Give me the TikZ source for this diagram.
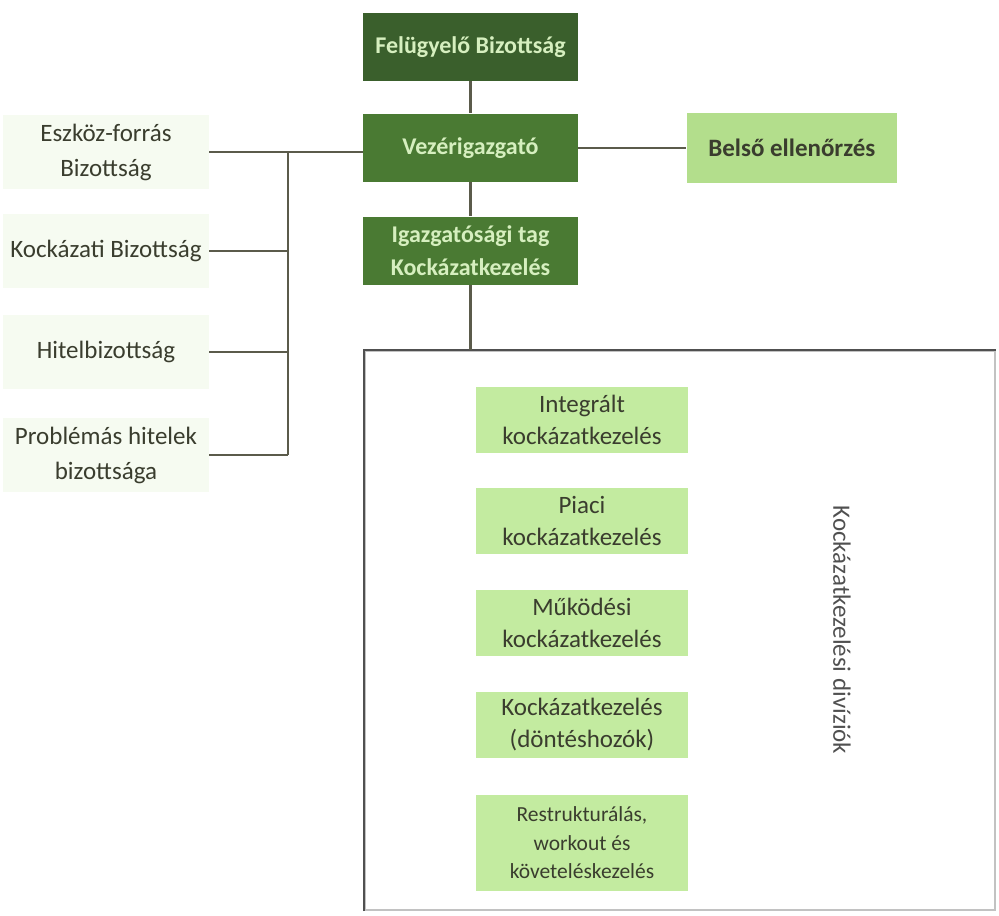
\documentclass[tikz,border=0pt]{standalone}
\usepackage{fontspec}
\setmainfont{Carlito}
\usetikzlibrary{positioning}
\definecolor{fbgreen}{HTML}{3A5F2C}
\definecolor{vezgreen}{HTML}{4A7A33}
\definecolor{palegreen}{HTML}{D6EFBF}
\definecolor{auditgreen}{HTML}{B3DE8C}
\definecolor{unitgreen}{HTML}{C3EBA0}
\definecolor{sidegreen}{HTML}{F6FBF1}
\definecolor{linegray}{HTML}{5B5B4B}
\definecolor{framegray}{HTML}{505050}
\definecolor{textdark}{HTML}{3A3D2E}
\tikzset{dark node/.style={rectangle,fill=vezgreen,text=palegreen,align=center,inner sep=0pt,
  minimum width=107.5pt,minimum height=34pt,font=\bfseries\fontsize{12}{16.5}\selectfont},
}

\begin{document}
\begin{tikzpicture}[x=0.5pt,y=-0.5pt,
conn/.style={draw=linegray,line width=1.2pt},
audit node/.style={rectangle,fill=auditgreen,text=textdark,minimum width=105pt,minimum height=35pt,inner sep=0pt,font=\bfseries\fontsize{12.5}{16}\selectfont},
side node/.style={rectangle,fill=sidegreen,text=textdark,align=center,minimum width=103pt,minimum height=37pt,inner sep=0pt,font=\fontsize{12.5}{17.5}\selectfont},
unit node/.style={rectangle,fill=unitgreen,text=textdark,align=center,minimum width=106pt,minimum height=33pt,inner sep=0pt,font=\fontsize{12.5}{16}\selectfont},
frame node/.style={rectangle,draw=framegray!35,line width=1.2pt,minimum width=315pt,minimum height=279.5pt,inner sep=0pt}]
\useasboundingbox (0,0) rectangle (999,915);

% main line
\node[dark node,fill=fbgreen] (fb) at (470.5,47) {Felügyelő Bizottság};
\node[dark node] (vez) [below=16pt of fb] {Vezérigazgató};
\node[dark node] (igt) [below=17pt of vez] {Igazgatósági tag\\Kockázatkezelés};
\node[audit node] (bel) [right=54pt of vez] {Belső ellenőrzés};

% committees
\node[side node] (eszk) at (106,152) {Eszköz-forrás\\Bizottság};
\node[side node] (kock) at (106,251) {Kockázati Bizottság};
\node[side node] (hitel) at (106,352) {Hitelbizottság};
\node[side node] (prob) at (106,455) {Problémás hitelek\\bizottsága};
\coordinate (bus) at (288,0);

% divisions
\node[frame node] (div) at (680,630.5) {};
\draw[draw=framegray,line width=1.2pt] (div.south west) -- (div.north west) -- (div.north east);
\node[unit node] (intg) at (582,419.5) {Integrált\\kockázatkezelés};
\node[unit node] (piaci) [below=17.5pt of intg] {Piaci\\kockázatkezelés};
\node[unit node] (mukd) [below=17.5pt of piaci] {Működési\\kockázatkezelés};
\node[unit node] (dont) [below=17.5pt of mukd] {Kockázatkezelés\\(döntéshozók)};
\node[unit node,minimum height=48pt,font=\fontsize{10.75}{14.25}\selectfont] (restr) [below=18pt of dont] {Restrukturálás,\\workout és\\követeléskezelés};
\node[rotate=-90,text=framegray,font=\fontsize{12.5}{15}\selectfont] (divl) at (842,630) {Kockázatkezelési divíziók};

% connectors
\draw[conn] (fb) -- (vez);
\draw[conn] (vez) -- (igt);
\draw[conn] (vez) -- (bel);
\draw[conn] (igt) -- (igt.south |- div.north);
\draw[conn] (eszk.east) -- (eszk.east -| vez.west);
\foreach \n in {kock,hitel,prob}
  \draw[conn] (\n.east) -- (\n.east -| bus);
\draw[conn] (bus |- eszk.east) -- (bus |- prob.east);
\end{tikzpicture}
\end{document}
